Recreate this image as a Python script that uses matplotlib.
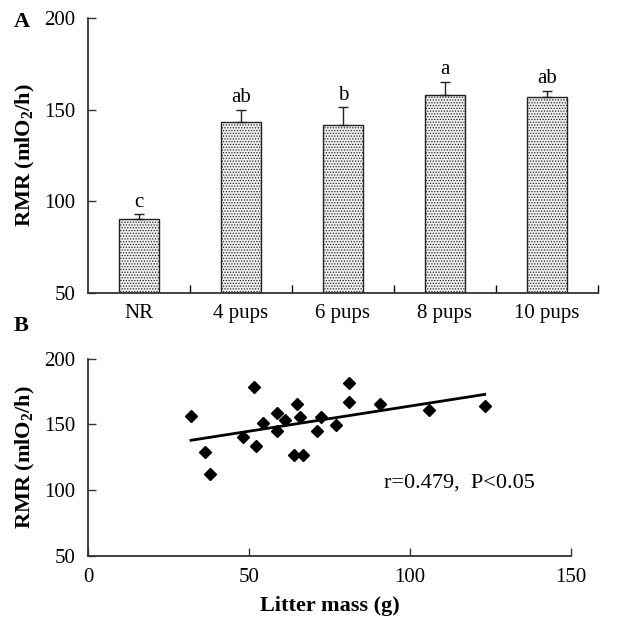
import numpy as np
import matplotlib
matplotlib.use("Agg")
import matplotlib.pyplot as plt

plt.rcParams['font.family'] = ['Liberation Serif', 'DejaVu Serif']
plt.rcParams['mathtext.fontset'] = 'custom'
plt.rcParams['mathtext.rm'] = 'Liberation Serif'
plt.rcParams['mathtext.bf'] = 'Liberation Serif:bold'
plt.rcParams['hatch.color'] = '#9a9a9a'
plt.rcParams['hatch.linewidth'] = 0.6

# panel A: resting metabolic rate by group
groups = ['NR', '4 pups', '6 pups', '8 pups', '10 pups']
rmr_mean = [90.2, 143.5, 141.7, 157.8, 156.9]
rmr_se = [2.7, 6.5, 9.6, 7.4, 3.4]
sig_letters = ['c', 'ab', 'b', 'a', 'ab']

# panel B: RMR against litter mass
litter_mass = [32.0, 36.4, 37.8, 48.2, 51.7, 52.3, 54.3, 58.8, 58.8, 61.1, 64.0,
               64.9, 65.7, 66.7, 71.0, 72.3, 77.1, 81.2, 81.2, 90.8, 106.0, 123.2]
rmr_ind = [156.5, 128.9, 112.1, 140.5, 178.3, 133.7, 150.9, 159.0, 145.0, 153.4, 126.8,
           165.6, 155.5, 126.8, 145.0, 155.5, 149.6, 181.8, 166.9, 165.6, 161.0, 164.3]
stat_text = 'r=0.479,  P<0.05'

fig = plt.figure(figsize=(6.39, 6.21), dpi=100)
axA = fig.add_axes([0.1377, 0.5282, 0.7981, 0.4428])
axB = fig.add_axes([0.1377, 0.1047, 0.7559, 0.3177])

ylab = r'RMR (mlO$_\mathbf{2}$/h)'

for ax in (axA, axB):
    for s in ('top', 'right'):
        ax.spines[s].set_visible(False)
    for s in ('left', 'bottom'):
        ax.spines[s].set_linewidth(1.3)
        ax.spines[s].set_color('#333333')
    ax.tick_params(direction='in', length=6, width=1.0, labelsize=15, color='#333333')
    ax.tick_params(axis='y', pad=9)

# bars with upper error bars only
x = np.arange(len(groups))
axA.bar(x, rmr_mean, width=0.4, bottom=0, facecolor='#f0f0f0', edgecolor='#222222',
        linewidth=1.0, hatch='......')
axA.errorbar(x, rmr_mean, yerr=[np.zeros(len(x)), rmr_se], fmt='none', ecolor='#222222',
             elinewidth=1.0, capsize=3.5, capthick=1.0)
for xi, m, e, t in zip(x, rmr_mean, rmr_se, sig_letters):
    axA.text(xi, m + e + 1.5, t, ha='center', va='bottom', fontsize=15)
axA.set_xlim(-0.5, len(groups) - 0.5)
axA.set_ylim(50, 200)
axA.set_yticks([50, 100, 150, 200])
axA.set_xticks(x)
axA.set_xticklabels(groups)
axA.set_xticks(np.arange(len(groups)) + 0.5, minor=True)
axA.tick_params(axis='x', which='major', length=0, pad=8)
axA.tick_params(axis='x', which='minor', direction='in', length=6, width=1.0)
axA.set_ylabel(ylab, fontsize=16, fontweight='bold', labelpad=5)
fig.text(0.022, 0.965, 'A', fontsize=16, fontweight='bold', va='center')

# scatter with least-squares line
lm = np.array(litter_mass)
slope, intercept = np.polyfit(lm, rmr_ind, 1)
xs = np.array([lm.min(), lm.max()])
axB.plot(xs, slope * xs + intercept, color='black', linewidth=2.0)
axB.plot(lm, rmr_ind, 'D', color='black', markersize=6)
axB.text(92, 105.5, stat_text, fontsize=16, va='center')
axB.set_xlim(0, 150)
axB.set_ylim(50, 200)
axB.set_xticks([0, 50, 100, 150])
axB.set_yticks([50, 100, 150, 200])
axB.tick_params(axis='x', pad=9)
axB.set_xlabel('Litter mass (g)', fontsize=16, fontweight='bold', labelpad=6)
axB.set_ylabel(ylab, fontsize=16, fontweight='bold', labelpad=5)
fig.text(0.022, 0.475, 'B', fontsize=16, fontweight='bold', va='center')

fig.savefig('out.png', dpi=100)
